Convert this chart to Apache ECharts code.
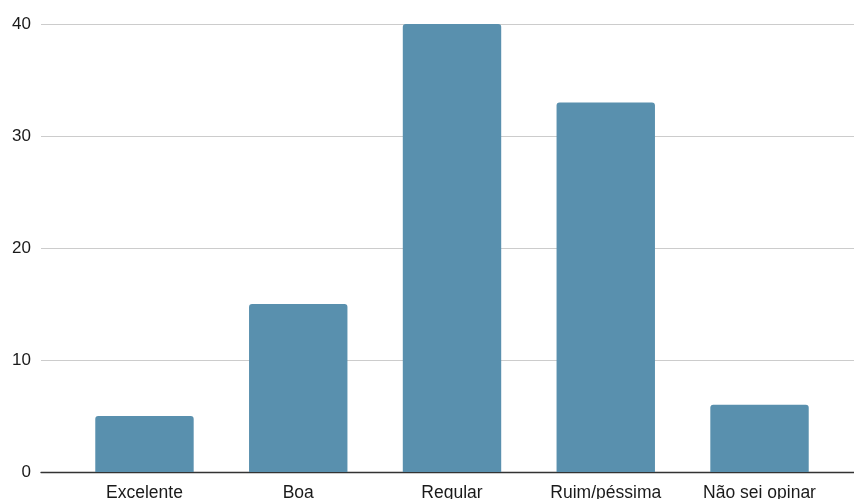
<!DOCTYPE html>
<html><head><meta charset="utf-8">
<script src="https://cdn.jsdelivr.net/npm/echarts@6/dist/echarts.min.js"></script>
<style>html,body{margin:0;padding:0;background:#fff}#c{width:854px;height:499px}</style>
</head><body><div id="c"></div>
<script>
const categories = ["Excelente", "Boa", "Regular", "Ruim/péssima", "Não sei opinar"];
const values = [5, 15, 40, 33, 6];
const yTicks = [0, 10, 20, 30, 40];

const chart = echarts.init(document.getElementById('c'), null, {renderer: 'canvas'});
const fam = 'Liberation Sans, Arial, sans-serif';
chart.setOption({
  animation: false,
  grid: [
    {left: 41, right: 0, top: 24, bottom: 27, outerBoundsMode: 'none', containLabel: false},
    {left: 67.6, right: 17.6, top: 24, bottom: 27, outerBoundsMode: 'none', containLabel: false}
  ],
  xAxis: [
    {gridIndex: 0, type: 'value', min: 0, max: 1, axisLabel: {show: false}, axisTick: {show: false},
     splitLine: {show: false}, axisLine: {show: true, lineStyle: {color: '#333', width: 1.3}}},
    {gridIndex: 1, type: 'category', data: categories, axisTick: {show: false}, axisLine: {show: false},
     axisLabel: {margin: 12, interval: 0, fontFamily: fam, fontSize: 17.5, color: '#1a1a1a'}}
  ],
  yAxis: [
    {gridIndex: 0, type: 'value', min: yTicks[0], max: yTicks[yTicks.length-1], interval: 10,
     axisLine: {show: false}, axisTick: {show: false},
     axisLabel: {margin: 10, fontFamily: fam, fontSize: 17, color: '#1a1a1a'},
     splitLine: {lineStyle: {color: '#cccccc', width: 1}}},
    {gridIndex: 1, type: 'value', min: 0, max: 40, show: false, splitLine: {show: false}}
  ],
  series: [{
    type: 'bar', xAxisIndex: 1, yAxisIndex: 1, data: values, barWidth: '64%',
    itemStyle: {color: '#5990ae', borderRadius: [3, 3, 0, 0]}
  }]
});
</script></body></html>
